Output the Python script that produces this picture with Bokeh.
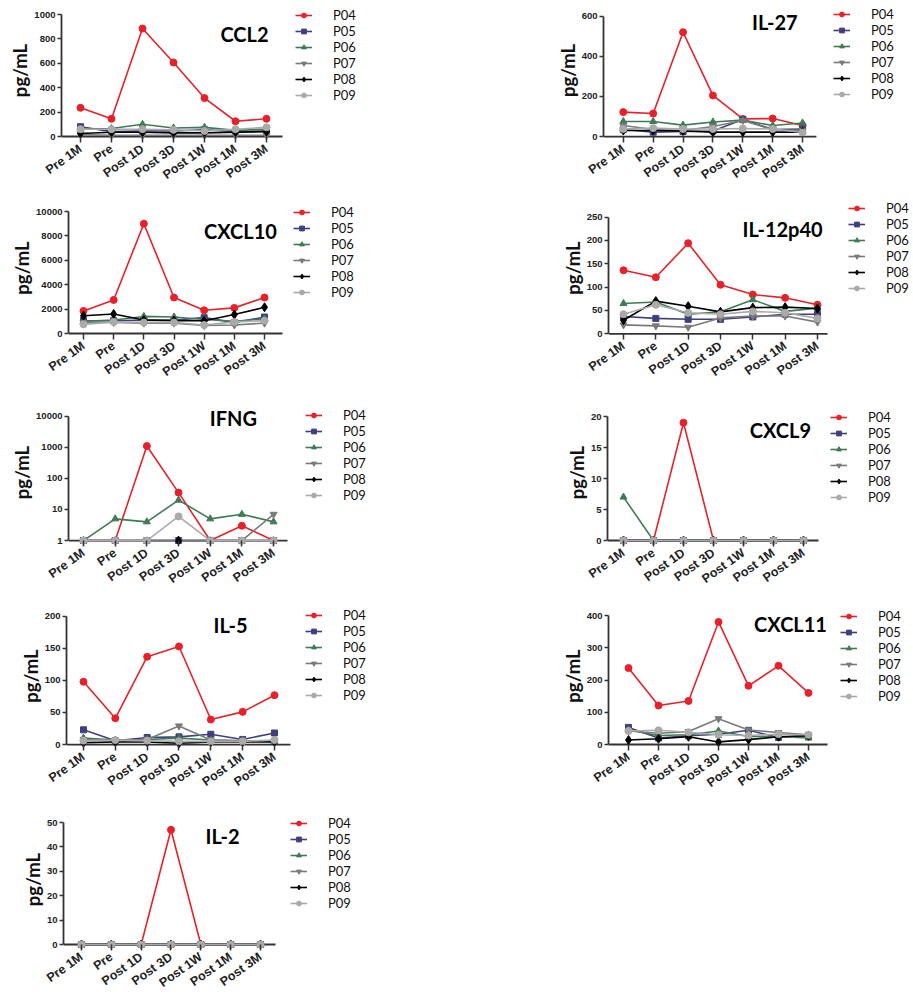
import math
import numpy as np
from bokeh.plotting import figure
from bokeh.models import (Range1d, FixedTicker, Legend, LegendItem, Label,
                          PrintfTickFormatter, ColumnDataSource)
from bokeh.layouts import column, row
from bokeh.embed import file_html
from bokeh.resources import INLINE

NaN = float("nan")

timepoints = ["Pre 1M", "Pre", "Post 1D", "Post 3D", "Post 1W", "Post 1M", "Post 3M"]
patients = ["P04", "P05", "P06", "P07", "P08", "P09"]

ccl2 = {
    "P04": [235, 145, 885, 607, 315, 125, 145],
    "P05": [80, 40, 45, 45, 55, 40, 45],
    "P06": [60, 65, 100, 70, 75, 50, 60],
    "P07": [15, 10, 10, 10, 10, 10, 10],
    "P08": [25, 35, 35, 30, 30, 35, 40],
    "P09": [60, 60, 60, 55, 45, 60, 75],
}
il27 = {
    "P04": [122, 115, 520, 205, 88, 90, 55],
    "P05": [35, 22, 25, 28, 85, 35, 38],
    "P06": [75, 75, 57, 73, 82, 55, 68],
    "P07": [55, 35, 30, 50, 80, 35, 30],
    "P08": [30, 30, 28, 22, 22, 22, 22],
    "P09": [38, 42, 38, 38, 40, 38, 20],
}
cxcl10 = {
    "P04": [1850, 2750, 9000, 2950, 1900, 2100, 2950],
    "P05": [1050, 1050, 1100, 1100, 1300, 900, 1350],
    "P06": [1000, 1100, 1400, 1350, 1150, 1000, 1200],
    "P07": [900, 900, 850, 850, 650, 700, 850],
    "P08": [1450, 1600, 1100, 1050, 1050, 1550, 2150],
    "P09": [750, 950, 900, 900, 700, 950, 1050],
}
il12p40 = {
    "P04": [136, 121, 194, 105, 84, 77, 62],
    "P05": [37, 33, 31, 31, 36, 42, 42],
    "P06": [65, 68, 42, 47, 73, 48, 55],
    "P07": [19, 17, 14, 34, 38, 38, 25],
    "P08": [29, 70, 59, 47, 56, 57, 54],
    "P09": [42, 62, 45, 42, 48, 45, 33],
}
ifng = {
    "P04": [1, 1, 1100, 35, 1, 3, 1],
    "P05": [1, 1, 1, 1, 1, 1, 1],
    "P06": [1, 5, 4, 20, 5, 7, 4],
    "P07": [1, 1, 1, 1, 1, 1, 7],
    "P08": [NaN, NaN, NaN, 1, NaN, NaN, NaN],
    "P09": [1, 1, 1, 6, 1, 1, 1],
}
cxcl9 = {
    "P04": [0, 0, 19, 0, 0, 0, 0],
    "P05": [0, 0, 0, 0, 0, 0, 0],
    "P06": [7, 0, 0, 0, 0, 0, 0],
    "P07": [0, 0, 0, 0, 0, 0, 0],
    "P08": [0, 0, 0, 0, 0, 0, 0],
    "P09": [0, 0, 0, 0, 0, 0, 0],
}
il5 = {
    "P04": [98, 41, 137, 153, 39, 51, 77],
    "P05": [23, 6, 11, 12, 16, 8, 18],
    "P06": [10, 7, 8, 10, 7, 6, 5],
    "P07": [8, 6, 8, 29, 7, 6, 6],
    "P08": [3, 4, 4, 2, 4, 4, 4],
    "P09": [6, 7, 6, 5, 5, 5, 7],
}
cxcl11 = {
    "P04": [237, 121, 135, 380, 182, 244, 160],
    "P05": [53, 20, 27, 32, 44, 22, 27],
    "P06": [45, 28, 30, 42, 25, 25, 20],
    "P07": [42, 35, 40, 80, 45, 37, 30],
    "P08": [14, 18, 24, 8, 15, 24, 27],
    "P09": [42, 44, 38, 30, 28, 32, 30],
}
il2 = {
    "P04": [0, 0, 0, 47, 0, 0, 0],
    "P05": [0, 0, 0, 0, 0, 0, 0],
    "P06": [0, 0, 0, 0, 0, 0, 0],
    "P07": [0, 0, 0, 0, 0, 0, 0],
    "P08": [0, 0, 0, 0, 0, 0, 0],
    "P09": [0, 0, 0, 0, 0, 0, 0],
}

ccl2_ticks = [0, 200, 400, 600, 800, 1000]
il27_ticks = [0, 200, 400, 600]
cxcl10_ticks = [0, 2000, 4000, 6000, 8000, 10000]
il12p40_ticks = [0, 50, 100, 150, 200, 250]
ifng_ticks = [1, 10, 100, 1000, 10000]
cxcl9_ticks = [0, 5, 10, 15, 20]
il5_ticks = [0, 50, 100, 150, 200]
cxcl11_ticks = [0, 100, 200, 300, 400]
il2_ticks = [0, 10, 20, 30, 40, 50]

# styles
STYLE = {
    "P04": ("#e8202a", "circle", 7),
    "P05": ("#3f3f80", "square", 6),
    "P06": ("#3f7b55", "triangle", 7),
    "P07": ("#7a7a7a", "inverted_triangle", 7),
    "P08": ("#000000", "diamond", 9),
    "P09": ("#aaaaaa", "circle", 7),
}
AXIS_COLOR = "#333333"

PAD = 4
LEG_OFF = 89
# W, H, left, top(ymax px), axis_w, axis_h(+pad), x_start, x_end(axis), title_x, title_y, legend_dx
GEOM = {
    "CCL2":     (553, 198, 61, 14, 221, 126, -0.613, 6.516, 5.29, 844, 13),
    "IL-27":    (360, 198, 47, 16, 215, 127, -0.663, 6.464, 5.07, 571, 15),
    "CXCL10":   (553, 202, 68, 13, 214, 126, -0.497, 6.596, 5.2, 8361, 11),
    "IL-12p40": (360, 202, 55, 20, 219, 130, -0.464, 6.31, 4.92, 224, 21),
    "IFNG":     (553, 203, 68, 16, 219, 130, -0.474, 6.44, 4.73, 8700, 18),
    "CXCL9":    (360, 203, 54, 16, 211, 128, -0.533, 6.5, 5.23, 17.9, 12),
    "IL-5":     (553, 207, 66, 13, 224, 134, -0.534, 6.503, 4.62, 186, 15),
    "CXCL11":   (360, 207, 55, 12, 219, 133, -0.667, 6.633, 5.4, 375, 13),
    "IL-2":     (553, 188, 63, 12, 212, 126, -0.603, 6.503, 4.73, 44.3, 15),
}


def make_panel(title, series, yticks, log=False):
    W, H, left, top, aw, ah, xs, xe, tx, ty, ldx = GEOM[title]
    ymin, ymax = yticks[0], yticks[-1]
    fw = W - left            # frame spans axis area + legend area
    fh = top + ah            # frame spans from figure top to below zero
    px_per_x = aw / (xe - xs)
    x_frame_end = xs + fw / px_per_x
    if log:
        lo, hi = math.log10(ymin), math.log10(ymax)
        ppu = (ah - PAD) / (hi - lo)
        y0 = 10 ** (lo - PAD / ppu)
        y1 = 10 ** (hi + top / ppu)
    else:
        ppu = (ah - PAD) / (ymax - ymin)
        y0 = ymin - PAD / ppu
        y1 = ymax + top / ppu
    p = figure(width=W, height=H, x_range=Range1d(xs, x_frame_end),
               y_range=Range1d(y0, y1),
               y_axis_type="log" if log else "linear",
               output_backend="svg", toolbar_location=None,
               min_border_left=left, min_border_top=0,
               min_border_right=0, min_border_bottom=H - fh,
               outline_line_color=None, background_fill_color="white",
               border_fill_color="white")
    p.grid.visible = False

    xa = p.xaxis[0]
    ya = p.yaxis[0]
    xa.ticker = FixedTicker(ticks=list(range(len(timepoints))))
    xa.major_label_overrides = {i: t for i, t in enumerate(timepoints)}
    xa.major_label_orientation = 0.62
    xa.bounds = (xs, xe)
    xa.major_label_text_font_size = "12.5px"
    xa.major_label_standoff = 5

    ya.ticker = FixedTicker(ticks=yticks)
    ya.bounds = (ymin, ymax)
    if log:
        ya.formatter = PrintfTickFormatter(format="%d")
    ya.major_label_text_font_size = "9.5px"
    ya.major_label_standoff = 2
    ya.axis_label = "pg/mL"
    ya.axis_label_text_font = "Lato"
    ya.axis_label_text_font_style = "bold"
    ya.axis_label_text_font_size = "18.5px"
    ya.axis_label_text_color = "#111111"
    ya.axis_label_standoff = 0

    for ax in (xa, ya):
        ax.axis_line_color = AXIS_COLOR
        ax.axis_line_width = 1.8
        ax.major_tick_line_color = AXIS_COLOR
        ax.major_tick_line_width = 1.5
        ax.major_tick_out = 4
        ax.major_tick_in = 0
        ax.minor_tick_line_color = None
        ax.major_label_text_font = "Liberation Sans"
        ax.major_label_text_font_style = "bold"
        ax.major_label_text_color = "#222222"
    # x axis line drawn at the baseline value (markers sit on it)
    xa.axis_line_color = None
    xa.major_tick_in = PAD
    xa.major_tick_out = 2
    p.segment(x0=[xs], y0=[ymin], x1=[xe], y1=[ymin], line_color=AXIS_COLOR,
              line_width=1.8, level="underlay")

    items = []
    for pid in patients:
        col, mk, sz = STYLE[pid]
        src = ColumnDataSource(dict(x=np.arange(len(timepoints), dtype=float),
                                    y=np.array(series[pid], dtype=float)))
        ln = p.line("x", "y", source=src, line_color=col, line_width=1.6)
        sc = p.scatter("x", "y", source=src, marker=mk, size=sz,
                       fill_color=col, line_color=col)
        items.append(LegendItem(label=pid, renderers=[ln, sc]))

    leg = Legend(items=items, location=(aw + ldx, ah - LEG_OFF))
    leg.label_text_font = "Lato"
    leg.label_text_font_size = "13px"
    leg.label_text_color = "#111111"
    leg.glyph_width = 17
    leg.glyph_height = 12
    leg.label_height = 12
    leg.label_standoff = 21
    leg.spacing = 0
    leg.padding = 0
    leg.margin = 0
    leg.border_line_color = None
    leg.background_fill_alpha = 0
    p.add_layout(leg)

    p.add_layout(Label(x=tx, y=ty, text=title, text_font="Lato",
                       text_font_style="bold", text_font_size="20px",
                       text_color="#000000", text_align="center",
                       text_baseline="middle"))
    return p


p_ccl2 = make_panel("CCL2", ccl2, ccl2_ticks)
p_il27 = make_panel("IL-27", il27, il27_ticks)
p_cxcl10 = make_panel("CXCL10", cxcl10, cxcl10_ticks)
p_il12 = make_panel("IL-12p40", il12p40, il12p40_ticks)
p_ifng = make_panel("IFNG", ifng, ifng_ticks, log=True)
p_cxcl9 = make_panel("CXCL9", cxcl9, cxcl9_ticks)
p_il5 = make_panel("IL-5", il5, il5_ticks)
p_cxcl11 = make_panel("CXCL11", cxcl11, cxcl11_ticks)
p_il2 = make_panel("IL-2", il2, il2_ticks)

layout = column(
    row(p_ccl2, p_il27),
    row(p_cxcl10, p_il12),
    row(p_ifng, p_cxcl9),
    row(p_il5, p_cxcl11),
    row(p_il2),
)

open("out.html", "w").write(file_html(layout, INLINE))
